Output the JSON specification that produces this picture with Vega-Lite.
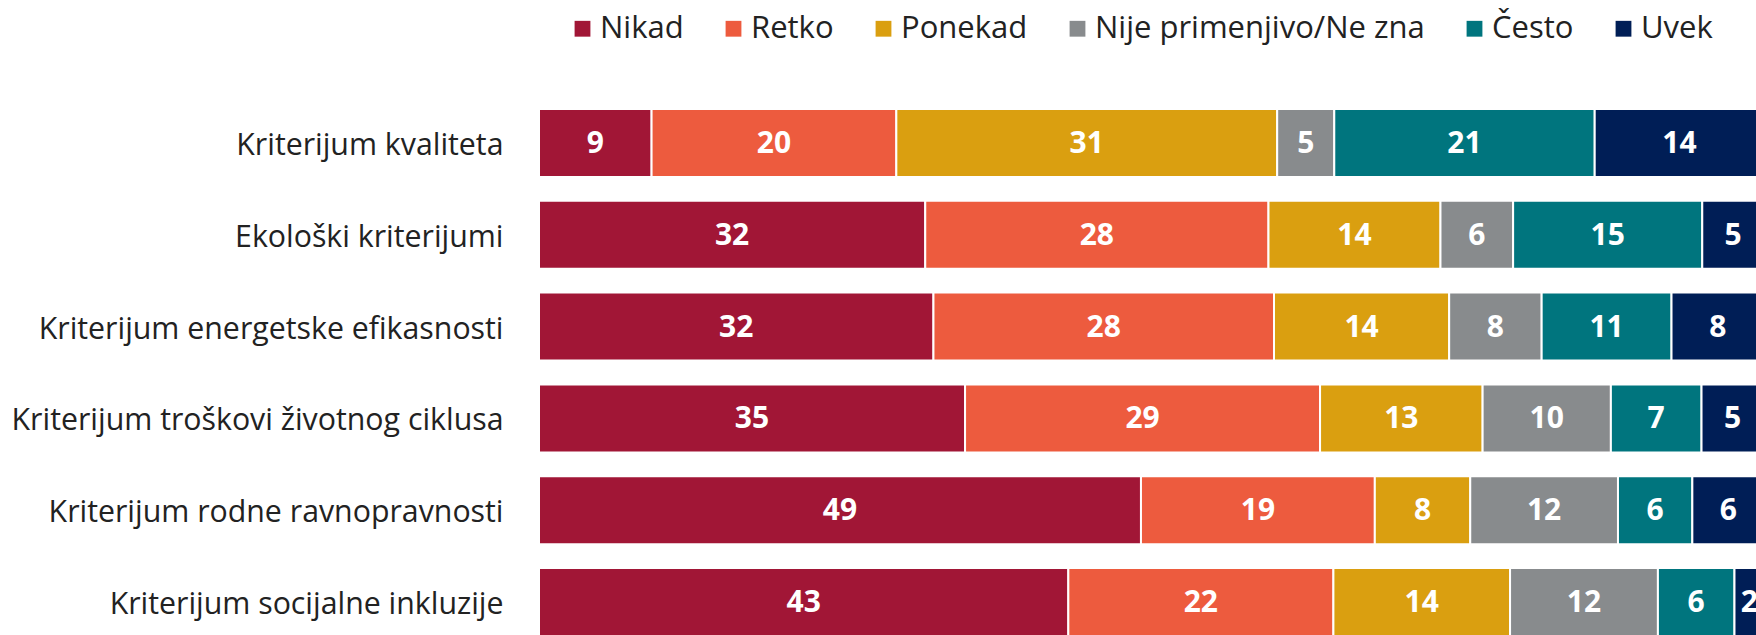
{
  "$schema": "https://vega.github.io/schema/vega-lite/v6.json",
  "autosize": {"type": "none"},
  "padding": {"left": 539, "top": 97, "right": 0, "bottom": 0},
  "width": 1217,
  "height": 538,
  "background": "white",
  "config": {"view": {"stroke": null}, "font": "Open Sans"},
  "data": {"values": [
    {"criterion": "Kriterijum kvaliteta", "category": "Nikad", "ord": 1, "value": 9.19},
    {"criterion": "Kriterijum kvaliteta", "category": "Retko", "ord": 2, "value": 19.98},
    {"criterion": "Kriterijum kvaliteta", "category": "Ponekad", "ord": 3, "value": 31.09},
    {"criterion": "Kriterijum kvaliteta", "category": "Nije primenjivo/Ne zna", "ord": 4, "value": 4.66},
    {"criterion": "Kriterijum kvaliteta", "category": "Često", "ord": 5, "value": 21.26},
    {"criterion": "Kriterijum kvaliteta", "category": "Uvek", "ord": 6, "value": 13.83},
    {"criterion": "Ekološki kriterijumi", "category": "Nikad", "ord": 1, "value": 31.53},
    {"criterion": "Ekološki kriterijumi", "category": "Retko", "ord": 2, "value": 28.02},
    {"criterion": "Ekološki kriterijumi", "category": "Ponekad", "ord": 3, "value": 14.04},
    {"criterion": "Ekološki kriterijumi", "category": "Nije primenjivo/Ne zna", "ord": 4, "value": 5.93},
    {"criterion": "Ekološki kriterijumi", "category": "Često", "ord": 5, "value": 15.44},
    {"criterion": "Ekološki kriterijumi", "category": "Uvek", "ord": 6, "value": 5.03},
    {"criterion": "Kriterijum energetske efikasnosti", "category": "Nikad", "ord": 1, "value": 32.2},
    {"criterion": "Kriterijum energetske efikasnosti", "category": "Retko", "ord": 2, "value": 27.8},
    {"criterion": "Kriterijum energetske efikasnosti", "category": "Ponekad", "ord": 3, "value": 14.3},
    {"criterion": "Kriterijum energetske efikasnosti", "category": "Nije primenjivo/Ne zna", "ord": 4, "value": 7.55},
    {"criterion": "Kriterijum energetske efikasnosti", "category": "Često", "ord": 5, "value": 10.6},
    {"criterion": "Kriterijum energetske efikasnosti", "category": "Uvek", "ord": 6, "value": 7.55},
    {"criterion": "Kriterijum troškovi životnog ciklusa", "category": "Nikad", "ord": 1, "value": 34.78},
    {"criterion": "Kriterijum troškovi životnog ciklusa", "category": "Retko", "ord": 2, "value": 28.98},
    {"criterion": "Kriterijum troškovi životnog ciklusa", "category": "Ponekad", "ord": 3, "value": 13.27},
    {"criterion": "Kriterijum troškovi životnog ciklusa", "category": "Nije primenjivo/Ne zna", "ord": 4, "value": 10.47},
    {"criterion": "Kriterijum troškovi životnog ciklusa", "category": "Često", "ord": 5, "value": 7.4},
    {"criterion": "Kriterijum troškovi životnog ciklusa", "category": "Uvek", "ord": 6, "value": 5.09},
    {"criterion": "Kriterijum rodne ravnopravnosti", "category": "Nikad", "ord": 1, "value": 49.14},
    {"criterion": "Kriterijum rodne ravnopravnosti", "category": "Retko", "ord": 2, "value": 19.09},
    {"criterion": "Kriterijum rodne ravnopravnosti", "category": "Ponekad", "ord": 3, "value": 7.79},
    {"criterion": "Kriterijum rodne ravnopravnosti", "category": "Nije primenjivo/Ne zna", "ord": 4, "value": 12.06},
    {"criterion": "Kriterijum rodne ravnopravnosti", "category": "Često", "ord": 5, "value": 6.07},
    {"criterion": "Kriterijum rodne ravnopravnosti", "category": "Uvek", "ord": 6, "value": 5.86},
    {"criterion": "Kriterijum socijalne inkluzije", "category": "Nikad", "ord": 1, "value": 43.21},
    {"criterion": "Kriterijum socijalne inkluzije", "category": "Retko", "ord": 2, "value": 21.64},
    {"criterion": "Kriterijum socijalne inkluzije", "category": "Ponekad", "ord": 3, "value": 14.42},
    {"criterion": "Kriterijum socijalne inkluzije", "category": "Nije primenjivo/Ne zna", "ord": 4, "value": 12.07},
    {"criterion": "Kriterijum socijalne inkluzije", "category": "Često", "ord": 5, "value": 6.25},
    {"criterion": "Kriterijum socijalne inkluzije", "category": "Uvek", "ord": 6, "value": 2.41}
  ]},
  "transform": [
    {"stack": "value", "groupby": ["criterion"], "sort": [{"field": "ord", "order": "ascending"}], "as": ["v0", "v1"]}
  ],
  "encoding": {
    "y": {
      "field": "criterion", "type": "nominal",
      "sort": ["Kriterijum kvaliteta", "Ekološki kriterijumi", "Kriterijum energetske efikasnosti", "Kriterijum troškovi životnog ciklusa", "Kriterijum rodne ravnopravnosti", "Kriterijum socijalne inkluzije"],
      "scale": {"range": [0, 551], "paddingInner": 0.26, "paddingOuter": 0.13},
      "axis": {"title": null, "domain": false, "ticks": false, "tickSize": 0, "labelPadding": 36, "labelOffset": 3, "labelFontSize": 30.3, "labelFont": "Open Sans", "labelColor": "#222222", "labelLimit": 700}
    }
  },
  "layer": [
    {
      "mark": {"type": "bar", "stroke": "white", "strokeWidth": 2},
      "encoding": {
        "x": {"field": "v0", "type": "quantitative", "scale": {"domain": [0, 100], "range": [0, 1225]}, "axis": null},
        "x2": {"field": "v1"},
        "color": {
          "field": "category", "type": "nominal",
          "scale": {
            "domain": ["Nikad", "Retko", "Ponekad", "Nije primenjivo/Ne zna", "Često", "Uvek"],
            "range": ["#A11636", "#ED5B3E", "#DA9F10", "#888B8D", "#00757E", "#001E56"]
          },
          "legend": {
            "title": null, "orient": "none", "direction": "horizontal",
            "legendX": 28, "legendY": -84, "padding": 0,
            "symbolType": "square", "symbolSize": 250, "symbolStrokeWidth": 0, "symbolOpacity": 1,
            "labelFontSize": 31, "labelFont": "Open Sans", "labelColor": "#222222", "labelLimit": 600,
            "labelOffset": 2, "columnPadding": 34
          }
        }
      }
    },
    {
      "transform": [
        {"fold": ["v0", "v1"], "as": ["edge", "pos"]},
        {"aggregate": [{"op": "mean", "field": "pos", "as": "mid"}], "groupby": ["criterion", "category", "value"]}
      ],
      "mark": {"type": "text", "color": "white", "fontWeight": "bold", "fontSize": 30, "font": "Open Sans", "baseline": "middle", "align": "center", "dy": 1},
      "encoding": {
        "x": {"field": "mid", "type": "quantitative", "scale": {"domain": [0, 100], "range": [0, 1225]}},
        "text": {"field": "value", "type": "quantitative", "format": ".0f"}
      }
    }
  ]
}
